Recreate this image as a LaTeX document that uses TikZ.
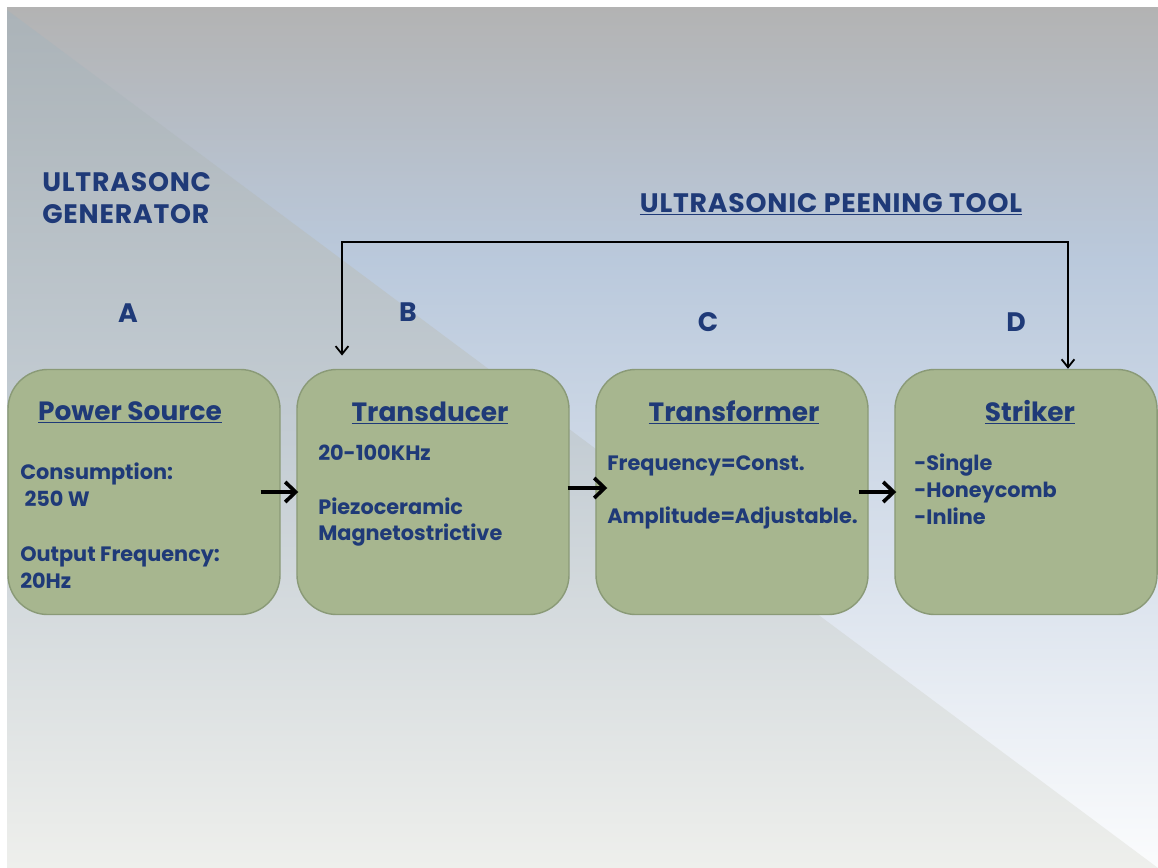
\documentclass[tikz,border=0pt]{standalone}
\usepackage{fontspec}
\setmainfont{Poppins}
\usetikzlibrary{arrows.meta}
\definecolor{navy}{HTML}{1F3A78}
\definecolor{boxfill}{HTML}{A7B68F}
\definecolor{boxline}{HTML}{8A9A77}
\definecolor{bgtop}{HTML}{B3B3B3}
\definecolor{bgblue}{HTML}{BAC9DC}
\definecolor{bgmid}{HTML}{D9E1EC}
\definecolor{bgbot}{HTML}{FBFCFD}
\definecolor{trtop}{HTML}{ABB3B8}
\definecolor{trmid}{HTML}{C4CDD4}
\definecolor{trbot}{HTML}{EEEFEC}
\begin{document}
\begin{tikzpicture}[x=0.025cm, y=-0.025cm, every node/.style={font=\bfseries, text=navy},
  block/.style={draw=boxline, line width=1pt, fill=boxfill, rounded corners=1cm,
    minimum width=6.8cm, minimum height=6.125cm},
  btitle/.style={font=\bfseries\fontsize{18.8}{20}\selectfont, anchor=base},
  btext/.style={font=\bfseries\fontsize{14.8}{19}\selectfont, align=left, anchor=north west, inner sep=0pt},
  tag/.style={font=\bfseries\fontsize{19}{22.8}\selectfont\addfontfeatures{LetterSpace=3}},
  flow/.style={line width=2.6pt, -{Straight Barb[length=2.6mm, width=5mm]}},
  link/.style={line width=1.3pt, {Straight Barb[length=2mm, width=3.2mm]}-{Straight Barb[length=2mm, width=3.2mm]}}]
  \useasboundingbox (0,0) rectangle (1158,868);
  % slide background
  \fill[white] (0,0) rectangle (1158,868);
  \shade[top color=bgtop, bottom color=bgblue] (7,7) rectangle (1158,261);
  \shade[top color=bgblue, bottom color=bgbot, middle color=bgmid] (7,260) rectangle (1158,868);
  \shade[top color=trtop, bottom color=trbot, middle color=trmid] (7,10) -- (1158,868) -- (7,868) -- cycle;
  % headings
  \node[tag, align=left, anchor=north west, inner sep=0pt] (gen) at (42,172) {ULTRASONC\\GENERATOR};
  \node[tag, anchor=base] (tool) at (831,212) {\underline{ULTRASONIC PEENING TOOL}};
  \node[tag] (lA) at (128,313) {A};
  \node[tag] (lB) at (408,312) {B};
  \node[tag] (lC) at (708,322) {C};
  \node[tag] (lD) at (1016,322) {D};
  % blocks
  \node[block] (psrc) at (144,492) {};
  \node[block] (tdcr) at (433,492) {};
  \node[block] (tfmr) at (732,492) {};
  \node[block, minimum width=6.55cm] (strk) at (1026,492) {};
  \node[btitle] (tA) at (130,420) {\underline{Power Source}};
  \node[btitle] (tB) at (430,421) {\underline{Transducer}};
  \node[btitle] (tC) at (734,421) {\underline{Transformer}};
  \node[btitle] (tD) at (1030,421) {\underline{Striker}};
  \node[btext] (xA) at (20,463) {Consumption:\\\hspace{3pt}250 W\\[20pt]Output Frequency:\\20Hz};
  \node[btext] (xB) at (318,445) {20-100KHz\\[19pt]Piezoceramic\\Magnetostrictive};
  \node[btext] (xC) at (607,455) {Frequency=Const.\\[19pt]Amplitude=Adjustable.};
  \node[btext] (xD) at (914,454) {-Single\\-Honeycomb\\-Inline};
  % connectors
  \draw[flow] ([xshift=-0.5cm]psrc.east) -- ([xshift=0.05cm]tdcr.west);
  \draw[flow] ([xshift=-0.05cm, yshift=0.1cm]tdcr.east) -- ([xshift=0.3cm, yshift=0.1cm]tfmr.west);
  \draw[flow] ([xshift=-0.25cm]tfmr.east) -- ([xshift=0.05cm]strk.west);
  \coordinate (busL) at (342,242);
  \coordinate (busR) at (1068,242);
  \draw[link] ([yshift=0.33cm]tdcr.north -| busL) -- (busL) -- (busR) -- (strk.north -| busR);
\end{tikzpicture}
\end{document}
